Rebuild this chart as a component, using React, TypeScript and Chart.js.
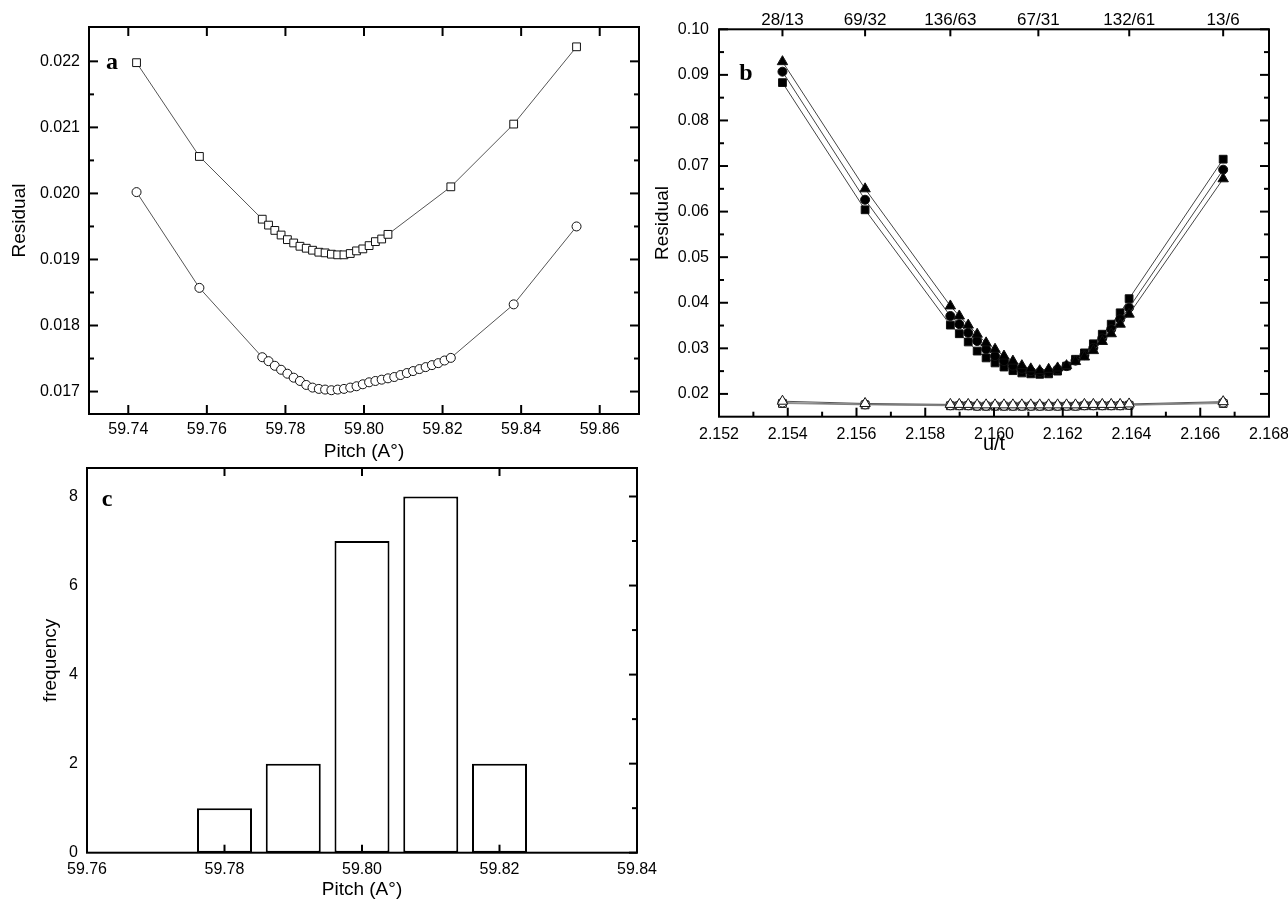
import React, { useEffect, useRef } from 'react';
import { Chart, registerables } from 'chart.js';

Chart.register(...registerables);

const FONT = "'Liberation Sans', Arial, Helvetica, sans-serif";
const LETTER_FONT = "bold 24px 'Liberation Serif', 'Times New Roman', serif";

// ---------- Panel a : residual vs pitch ----------
const A_PITCH_SQ = [
  59.7421, 59.7581,
  59.7741, 59.7757, 59.7773, 59.7789, 59.7805, 59.7821, 59.7837, 59.7853, 59.7869, 59.7885,
  59.7901, 59.7917, 59.7933, 59.7949, 59.7965, 59.7981, 59.7997, 59.8013, 59.8029, 59.8045, 59.8061,
  59.8221, 59.8381, 59.8541,
];
const A_RES_SQ = [
  0.02198, 0.02056,
  0.01961, 0.01952, 0.01944, 0.01937, 0.0193, 0.01925, 0.0192, 0.01917, 0.01914, 0.01911,
  0.0191, 0.01908, 0.01907, 0.01907, 0.01909, 0.01913, 0.01916, 0.01921, 0.01927, 0.01931, 0.01938,
  0.0201, 0.02105, 0.02222,
];
const A_PITCH_CI = [
  59.7421, 59.7581,
  59.7741, 59.7757, 59.7773, 59.7789, 59.7805, 59.7821, 59.7837, 59.7853, 59.7869, 59.7885,
  59.7901, 59.7917, 59.7933, 59.7949, 59.7965, 59.7981, 59.7997, 59.8013, 59.8029, 59.8045,
  59.8061, 59.8077, 59.8093, 59.8109, 59.8125, 59.8141, 59.8157, 59.8173, 59.8189, 59.8205, 59.8221,
  59.8381, 59.8541,
];
const A_RES_CI = [
  0.02002, 0.01857,
  0.01752, 0.01746, 0.01739, 0.01733, 0.01727, 0.01721, 0.01716, 0.0171, 0.01706, 0.01704,
  0.01703, 0.01702, 0.01703, 0.01704, 0.01706, 0.01708, 0.01711, 0.01714, 0.01716, 0.01718,
  0.0172, 0.01722, 0.01725, 0.01728, 0.01731, 0.01734, 0.01737, 0.0174, 0.01743, 0.01747, 0.01751,
  0.01832, 0.0195,
];
const A_XTICKS = [59.74, 59.76, 59.78, 59.8, 59.82, 59.84, 59.86];
const A_YTICKS = [0.017, 0.018, 0.019, 0.02, 0.021, 0.022];
const A_YMINOR = [0.0175, 0.0185, 0.0195, 0.0205, 0.0215];

// ---------- Panel b : residual vs u/t ----------
const B_UT = [
  2.153846, 2.15625,
  2.15873, 2.15899, 2.15925, 2.15951, 2.15977, 2.16003, 2.16029, 2.16055, 2.16081, 2.16107,
  2.16133, 2.16159, 2.16185, 2.16211, 2.16237, 2.16263, 2.16289, 2.16315, 2.16341, 2.16367, 2.16393,
  2.166667,
];
const B_TRI = [
  0.0929, 0.065,
  0.0393, 0.0371, 0.0351, 0.0331, 0.0312, 0.0298, 0.0283, 0.0272, 0.0262, 0.0255,
  0.0251, 0.0254, 0.0257, 0.0262, 0.0271, 0.0281, 0.0295, 0.0315, 0.0332, 0.0353, 0.0375,
  0.0672,
];
const B_CIR = [
  0.0907, 0.0626,
  0.0371, 0.0353, 0.0334, 0.0316, 0.0298, 0.0283, 0.0272, 0.0262, 0.0255, 0.025,
  0.0248, 0.0248, 0.0254, 0.0261, 0.0273, 0.0285, 0.0301, 0.0322, 0.0342, 0.0364, 0.0389,
  0.0692,
];
const B_SQR = [
  0.0883, 0.0604,
  0.0351, 0.0332, 0.0314, 0.0294, 0.0279, 0.0268, 0.0259, 0.0251, 0.0246, 0.0244,
  0.0243, 0.0244, 0.025, 0.0261, 0.0276, 0.029, 0.031, 0.0331, 0.0353, 0.0378, 0.0409,
  0.0715,
];
const B_OPEN_TRI = [
  0.0184, 0.0179,
  0.0177, 0.0177, 0.0177, 0.0176, 0.0176, 0.0176, 0.0176, 0.0176, 0.0176, 0.0176,
  0.0176, 0.0176, 0.0176, 0.0176, 0.0176, 0.0177, 0.0177, 0.0177, 0.0177, 0.0177, 0.0178,
  0.0183,
];
const B_OPEN_CIR = [
  0.0181, 0.0177,
  0.0175, 0.0175, 0.0175, 0.0174, 0.0174, 0.0174, 0.0174, 0.0174, 0.0174, 0.0174,
  0.0174, 0.0174, 0.0174, 0.0174, 0.0174, 0.0175, 0.0175, 0.0175, 0.0175, 0.0175, 0.0176,
  0.0181,
];
const B_OPEN_SQR = [
  0.0179, 0.0176,
  0.0174, 0.0174, 0.0174, 0.0173, 0.0173, 0.0173, 0.0173, 0.0173, 0.0173, 0.0173,
  0.0173, 0.0173, 0.0173, 0.0173, 0.0173, 0.0174, 0.0174, 0.0174, 0.0174, 0.0174, 0.0175,
  0.0179,
];
const B_XTICKS = [2.152, 2.154, 2.156, 2.158, 2.16, 2.162, 2.164, 2.166, 2.168];
const B_XMINOR = [2.153, 2.155, 2.157, 2.159, 2.161, 2.163, 2.165, 2.167];
const B_YTICKS = [0.02, 0.03, 0.04, 0.05, 0.06, 0.07, 0.08, 0.09, 0.1];
const B_YMINOR = [0.025, 0.035, 0.045, 0.055, 0.065, 0.075, 0.085, 0.095];
const B_TOP_VALUES = [28 / 13, 69 / 32, 136 / 63, 67 / 31, 132 / 61, 13 / 6];
const B_TOP_LABELS = ['28/13', '69/32', '136/63', '67/31', '132/61', '13/6'];

// ---------- Panel c : histogram ----------
const C_PITCH = [59.78, 59.79, 59.8, 59.81, 59.82];
const C_FREQ = [1, 2, 7, 8, 2];
const C_XTICKS = [59.76, 59.78, 59.8, 59.82, 59.84];
const C_YTICKS = [0, 2, 4, 6, 8];
const C_YMINOR = [1, 3, 5, 7];

type Mark = { axis: string; values: number[]; len: number; sides: string[] };

function makeFramePlugin(marks: Mark[], letter: { text: string; dx: number; dy: number }) {
  return {
    id: 'frameTicks',
    afterDraw(chart: any) {
      const { ctx, chartArea } = chart;
      const { left, right, top, bottom } = chartArea;
      ctx.save();
      ctx.strokeStyle = '#000';
      ctx.lineWidth = 2;
      marks.forEach((m) => {
        const scale = chart.scales[m.axis];
        if (!scale) return;
        m.values.forEach((v) => {
          const p = scale.getPixelForValue(v);
          m.sides.forEach((side) => {
            ctx.beginPath();
            if (side === 'bottom') {
              ctx.moveTo(p, bottom);
              ctx.lineTo(p, bottom - m.len);
            } else if (side === 'top') {
              ctx.moveTo(p, top);
              ctx.lineTo(p, top + m.len);
            } else if (side === 'left') {
              ctx.moveTo(left, p);
              ctx.lineTo(left + m.len, p);
            } else {
              ctx.moveTo(right, p);
              ctx.lineTo(right - m.len, p);
            }
            ctx.stroke();
          });
        });
      });
      ctx.strokeRect(left, top, right - left, bottom - top);
      ctx.fillStyle = '#000';
      ctx.font = LETTER_FONT;
      ctx.textAlign = 'center';
      ctx.textBaseline = 'middle';
      ctx.fillText(letter.text, left + letter.dx, top + letter.dy);
      ctx.restore();
    },
  };
}

const setTicks = (values: number[]) => (scale: any) => {
  scale.ticks = values.map((v) => ({ value: v }));
};

const tickFont = { family: FONT, size: 16 };
const titleFont = { family: FONT, size: 19 };
const noGrid = { display: false, drawTicks: false };
const noBorder = { display: false };

const pts = (xs: number[], ys: number[]) => xs.map((x, i) => ({ x, y: ys[i] }));

function lineSet(label: string, xs: number[], ys: number[], style: string, radius: number, fill: string, line: string) {
  return {
    label,
    data: pts(xs, ys),
    showLine: true,
    borderColor: line,
    borderWidth: 1,
    pointStyle: style,
    pointRadius: radius,
    pointBackgroundColor: fill,
    pointBorderColor: '#111',
    pointBorderWidth: 1,
  };
}

function configA(): any {
  return {
    type: 'scatter',
    data: {
      datasets: [
        lineSet('squares', A_PITCH_SQ, A_RES_SQ, 'rect', 5.5, '#fff', '#555'),
        lineSet('circles', A_PITCH_CI, A_RES_CI, 'circle', 4.5, '#fff', '#555'),
      ],
    },
    options: {
      animation: false,
      responsive: false,
      layout: { padding: { left: 0, top: 27, right: 21, bottom: 7 } },
      plugins: { legend: { display: false }, tooltip: { enabled: false } },
      scales: {
        x: {
          type: 'linear', position: 'bottom', min: 59.73, max: 59.87, bounds: 'data',
          grid: noGrid, border: noBorder,
          afterBuildTicks: setTicks(A_XTICKS),
          afterFit: (s: any) => { s.height = 49; },
          ticks: { font: tickFont, color: '#000', padding: 6, maxRotation: 0, autoSkip: false, callback: (v: number) => v.toFixed(2) },
          title: { display: true, text: 'Pitch (A°)', font: titleFont, color: '#000', padding: { top: 0, bottom: 0 } },
        },
        y: {
          type: 'linear', position: 'left', min: 0.01666, max: 0.02252, bounds: 'data',
          grid: noGrid, border: noBorder,
          afterBuildTicks: setTicks(A_YTICKS),
          afterFit: (s: any) => { s.width = 89; },
          ticks: { font: tickFont, color: '#000', padding: 9, autoSkip: false, callback: (v: number) => v.toFixed(3) },
          title: { display: true, text: 'Residual', font: titleFont, color: '#000', padding: { top: 8, bottom: 0 } },
        },
      },
    },
    plugins: [
      makeFramePlugin(
        [
          { axis: 'x', values: A_XTICKS, len: 9, sides: ['bottom', 'top'] },
          { axis: 'y', values: A_YTICKS, len: 9, sides: ['left', 'right'] },
          { axis: 'y', values: A_YMINOR, len: 5, sides: ['left', 'right'] },
        ],
        { text: 'a', dx: 23, dy: 36 }
      ),
    ],
  };
}

function configB(): any {
  return {
    type: 'scatter',
    data: {
      datasets: [
        lineSet('filled triangles', B_UT, B_TRI, 'triangle', 6, '#000', '#444'),
        lineSet('filled circles', B_UT, B_CIR, 'circle', 4.5, '#000', '#444'),
        lineSet('filled squares', B_UT, B_SQR, 'rect', 5.5, '#000', '#444'),
        lineSet('open triangles', B_UT, B_OPEN_TRI, 'triangle', 6, '#fff', '#555'),
        lineSet('open circles', B_UT, B_OPEN_CIR, 'circle', 4.5, '#fff', '#777'),
        lineSet('open squares', B_UT, B_OPEN_SQR, 'rect', 5.5, '#fff', '#888'),
      ],
    },
    options: {
      animation: false,
      responsive: false,
      layout: { padding: { left: 0, top: 0, right: 31, bottom: 14 } },
      plugins: { legend: { display: false }, tooltip: { enabled: false } },
      scales: {
        x: {
          type: 'linear', position: 'bottom', min: 2.152, max: 2.168, bounds: 'data',
          grid: noGrid, border: noBorder,
          afterBuildTicks: setTicks(B_XTICKS),
          afterFit: (s: any) => { s.height = 39.3; },
          ticks: { font: tickFont, color: '#000', padding: 8, maxRotation: 0, autoSkip: false, callback: (v: number) => v.toFixed(3) },
          title: { display: true, text: 'u/t', font: { family: FONT, size: 20 }, color: '#000', padding: { top: 0, bottom: 0 } },
        },
        x2: {
          type: 'linear', position: 'top', min: 2.152, max: 2.168, bounds: 'data',
          grid: noGrid, border: noBorder,
          afterBuildTicks: setTicks(B_TOP_VALUES),
          afterFit: (s: any) => { s.height = 29.3; },
          ticks: {
            font: { family: FONT, size: 17, lineHeight: 1.0 }, color: '#000', padding: 0, maxRotation: 0, autoSkip: false,
            callback: (_v: number, i: number) => B_TOP_LABELS[i],
          },
        },
        y: {
          type: 'linear', position: 'left', min: 0.015, max: 0.1, bounds: 'data',
          grid: noGrid, border: noBorder,
          afterBuildTicks: setTicks(B_YTICKS),
          afterFit: (s: any) => { s.width = 79; },
          ticks: { font: tickFont, color: '#000', padding: 10, autoSkip: false, callback: (v: number) => v.toFixed(2) },
          title: { display: true, text: 'Residual', font: titleFont, color: '#000', padding: { top: 11, bottom: 0 } },
        },
      },
    },
    plugins: [
      makeFramePlugin(
        [
          { axis: 'x', values: B_XTICKS, len: 9, sides: ['bottom'] },
          { axis: 'x', values: B_XMINOR, len: 5, sides: ['bottom'] },
          { axis: 'x2', values: B_TOP_VALUES, len: 7, sides: ['top'] },
          { axis: 'y', values: B_YTICKS, len: 9, sides: ['left', 'right'] },
          { axis: 'y', values: B_YMINOR, len: 5, sides: ['left', 'right'] },
        ],
        { text: 'b', dx: 27, dy: 44 }
      ),
    ],
  };
}

function configC(): any {
  return {
    type: 'bar',
    data: {
      datasets: [
        {
          label: 'frequency',
          data: pts(C_PITCH, C_FREQ),
          backgroundColor: '#fff',
          borderColor: '#000',
          borderWidth: 2,
          borderSkipped: false,
          categoryPercentage: 1,
          barPercentage: 0.8,
        },
      ],
    },
    options: {
      animation: false,
      responsive: false,
      layout: { padding: { left: 0, top: 28, right: 63, bottom: 0 } },
      plugins: { legend: { display: false }, tooltip: { enabled: false } },
      scales: {
        x: {
          type: 'linear', position: 'bottom', min: 59.76, max: 59.84, bounds: 'data', offset: false,
          grid: { ...noGrid, offset: false }, border: noBorder,
          afterBuildTicks: setTicks(C_XTICKS),
          afterFit: (s: any) => { s.height = 48.3; },
          ticks: { font: tickFont, color: '#000', padding: 7, maxRotation: 0, autoSkip: false, callback: (v: number) => v.toFixed(2) },
          title: { display: true, text: 'Pitch (A°)', font: titleFont, color: '#000', padding: { top: 0, bottom: 0 } },
        },
        y: {
          type: 'linear', position: 'left', min: 0, max: 8.64, bounds: 'data',
          grid: noGrid, border: noBorder,
          afterBuildTicks: setTicks(C_YTICKS),
          afterFit: (s: any) => { s.width = 87; },
          ticks: { font: tickFont, color: '#000', padding: 9, autoSkip: false, callback: (v: number) => String(v) },
          title: { display: true, text: 'frequency', font: titleFont, color: '#000', padding: { top: 39, bottom: 0 } },
        },
      },
    },
    plugins: [
      makeFramePlugin(
        [
          { axis: 'x', values: C_XTICKS, len: 8, sides: ['bottom', 'top'] },
          { axis: 'y', values: C_YTICKS, len: 8, sides: ['right'] },
          { axis: 'y', values: C_YMINOR, len: 5, sides: ['right'] },
        ],
        { text: 'c', dx: 20, dy: 32 }
      ),
    ],
  };
}

function Panel({ left, top, width, height, make }: { left: number; top: number; width: number; height: number; make: () => any }) {
  const ref = useRef<HTMLCanvasElement | null>(null);
  useEffect(() => {
    if (!ref.current) return;
    const chart = new Chart(ref.current, make());
    return () => chart.destroy();
  }, []);
  return (
    <canvas
      ref={ref}
      width={width}
      height={height}
      style={{ position: 'absolute', left, top, width, height }}
    />
  );
}

export default function App() {
  return (
    <div
      style={{
        position: 'absolute',
        left: 0,
        top: 0,
        width: 1288,
        height: 901,
        overflow: 'hidden',
        background: '#fff',
      }}
    >
      <Panel left={0} top={0} width={660} height={470} make={configA} />
      <Panel left={640} top={0} width={660} height={470} make={configB} />
      <Panel left={0} top={440} width={700} height={461} make={configC} />
    </div>
  );
}
